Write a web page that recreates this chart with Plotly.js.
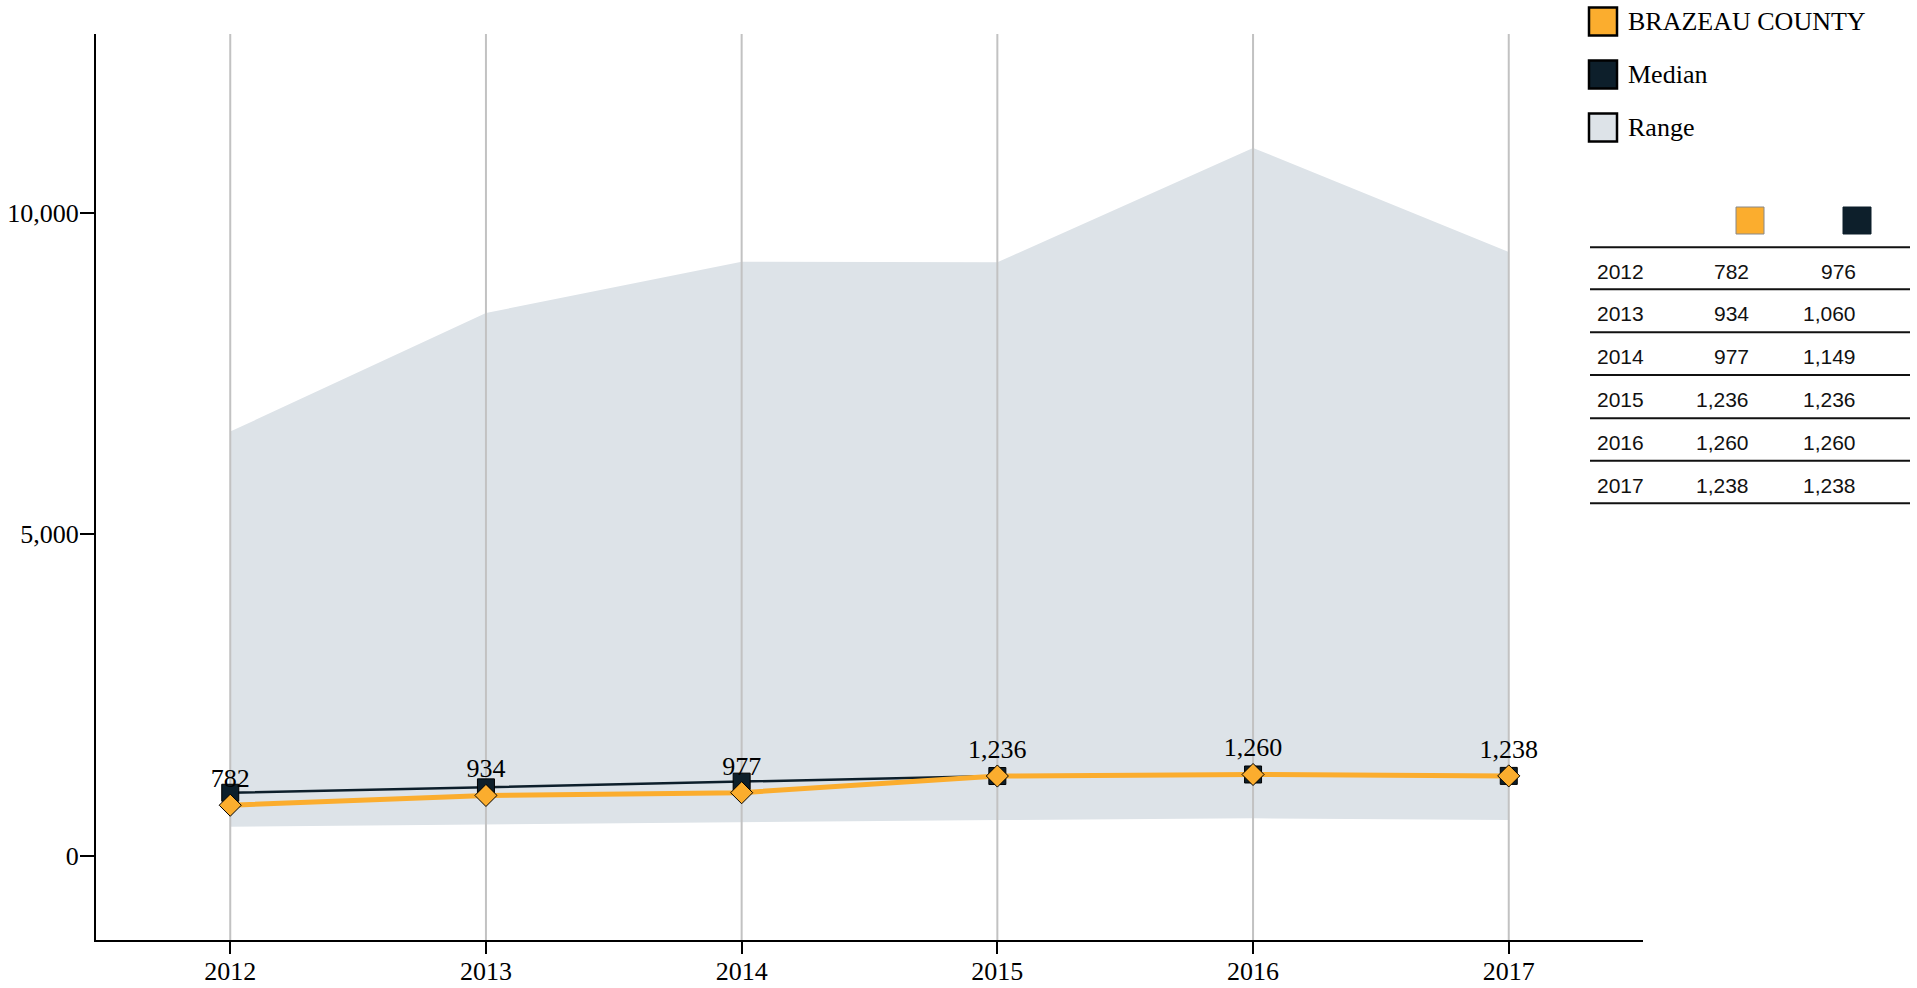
<!DOCTYPE html>
<html>
<head>
<meta charset="utf-8">
<script src="https://cdn.plot.ly/plotly-3.0.1.min.js"></script>
<style>
html,body{margin:0;padding:0;background:#fff;}
#chart{width:1917px;height:988px;}
</style>
</head>
<body>
<div id="chart"></div>
<script>
// ---- data ----
const years = ["2012","2013","2014","2015","2016","2017"];
const county = [782, 934, 977, 1236, 1260, 1238];
const median = [976, 1060, 1149, 1236, 1260, 1238];
const rangeLow = [448, 485, 520, 552, 578, 552];
const rangeHigh = [6593, 8437, 9236, 9225, 11005, 9387];
const yTicks = [0, 5000, 10000];
const countyName = "BRAZEAU COUNTY";
const legendLabels = [countyName, "Median", "Range"];

// ---- styling ----
const ORANGE = "#FBAD2E";
const NAVY = "#0D1F2B";
const RANGEC = "#DDE3E8";
const GRID = "#C2C2C2";
const SERIF = "Liberation Serif, Times New Roman, serif";
const SANS = "Liberation Sans, Arial, sans-serif";

const W = 1917, H = 988;
const L = 96, R = 1643, T = 34, B = 940;
const yRange = [-1314, 12776];
const xRange = [-0.525, 5.525];
const px = v => (v - L) / (R - L);
const py = v => (B - v) / (B - T);
const fmt = v => v.toLocaleString("en-US");

// grid lines built from categories & axis range (drawn above range fill)
const gx = [], gy = [];
years.forEach(y => { gx.push(y, y, null); gy.push(yRange[0], yRange[1], null); });

const traces = [
  {x: years, y: rangeLow, mode: "lines", line: {width: 0, color: RANGEC}, hoverinfo: "skip", showlegend: false},
  {x: years, y: rangeHigh, mode: "lines", line: {width: 0, color: RANGEC}, fill: "tonexty", fillcolor: RANGEC, hoverinfo: "skip", showlegend: false},
  {x: gx, y: gy, mode: "lines", line: {width: 2, color: GRID}, hoverinfo: "skip", showlegend: false},
  {x: years, y: median, mode: "lines+markers", name: "Median",
   line: {color: NAVY, width: 2.5},
   marker: {symbol: "square", size: 17, color: NAVY, line: {color: "#000", width: 1}}, showlegend: false},
  {x: years, y: county, mode: "lines+markers+text", name: countyName,
   text: county.map(fmt), textposition: "top center",
   textfont: {family: SERIF, size: 26, color: "#000"},
   line: {color: ORANGE, width: 5},
   marker: {symbol: "diamond", size: 17, color: ORANGE, line: {color: "#000", width: 1}}, showlegend: false}
];

const shapes = [];
const annotations = [];

// legend
const legColors = [ORANGE, NAVY, RANGEC];
const legCenters = [21.5, 74.5, 127.5];
legendLabels.forEach((lab, i) => {
  const cy = legCenters[i];
  shapes.push({type: "rect", xref: "paper", yref: "paper",
    x0: px(1589), x1: px(1617), y0: py(cy - 14), y1: py(cy + 14),
    fillcolor: legColors[i], line: {color: "#000", width: 2.5}});
  annotations.push({xref: "paper", yref: "paper", x: px(1626), y: py(cy), xanchor: "left", yanchor: "middle",
    text: lab, showarrow: false, font: {family: SERIF, size: 26, color: "#000"}});
});

// table
const tLeft = 1590, tRight = 1910;
const lineYs = [247.3, 289.3, 332.3, 375, 418.3, 460.7, 503.3];
shapes.push({type: "rect", xref: "paper", yref: "paper",
  x0: px(1736), x1: px(1764), y0: py(234), y1: py(207),
  fillcolor: ORANGE, line: {color: "#888", width: 1}});
shapes.push({type: "rect", xref: "paper", yref: "paper",
  x0: px(1843), x1: px(1871), y0: py(234), y1: py(207),
  fillcolor: NAVY, line: {color: NAVY, width: 1}});
lineYs.forEach(ly => {
  shapes.push({type: "line", xref: "paper", yref: "paper",
    x0: px(tLeft), x1: px(tRight), y0: py(ly), y1: py(ly), line: {color: "#111", width: 2}});
});
years.forEach((yr, i) => {
  const cy = (lineYs[i] + lineYs[i + 1]) / 2 + 3;
  const f = {family: SANS, size: 21, color: "#111"};
  annotations.push({xref: "paper", yref: "paper", x: px(1595), y: py(cy), xanchor: "left", yanchor: "middle", text: yr, showarrow: false, font: f});
  annotations.push({xref: "paper", yref: "paper", x: px(1751), y: py(cy), xanchor: "right", yanchor: "middle", text: fmt(county[i]), showarrow: false, font: f});
  annotations.push({xref: "paper", yref: "paper", x: px(1858), y: py(cy), xanchor: "right", yanchor: "middle", text: fmt(median[i]), showarrow: false, font: f});
});

const layout = {
  width: W, height: H,
  margin: {l: L, r: W - R, t: T, b: H - B, pad: 0},
  paper_bgcolor: "#fff", plot_bgcolor: "#fff",
  font: {family: SERIF, size: 26, color: "#000"},
  showlegend: false,
  xaxis: {type: "category", range: xRange, showgrid: false, zeroline: false,
    showline: true, linecolor: "#000", linewidth: 2,
    ticks: "outside", ticklen: 12, tickwidth: 2, tickcolor: "#000", ticklabelstandoff: -5,
    tickfont: {family: SERIF, size: 26, color: "#000"}, fixedrange: true},
  yaxis: {range: yRange, tickvals: yTicks, ticktext: yTicks.map(fmt), showgrid: false, zeroline: false,
    showline: true, linecolor: "#000", linewidth: 2,
    ticks: "outside", ticklen: 14, tickwidth: 2, tickcolor: "#000", ticklabelstandoff: -4,
    tickfont: {family: SERIF, size: 26, color: "#000"}, fixedrange: true},
  shapes: shapes,
  annotations: annotations
};

Plotly.newPlot("chart", traces, layout, {displayModeBar: false, staticPlot: true});
</script>
</body>
</html>
